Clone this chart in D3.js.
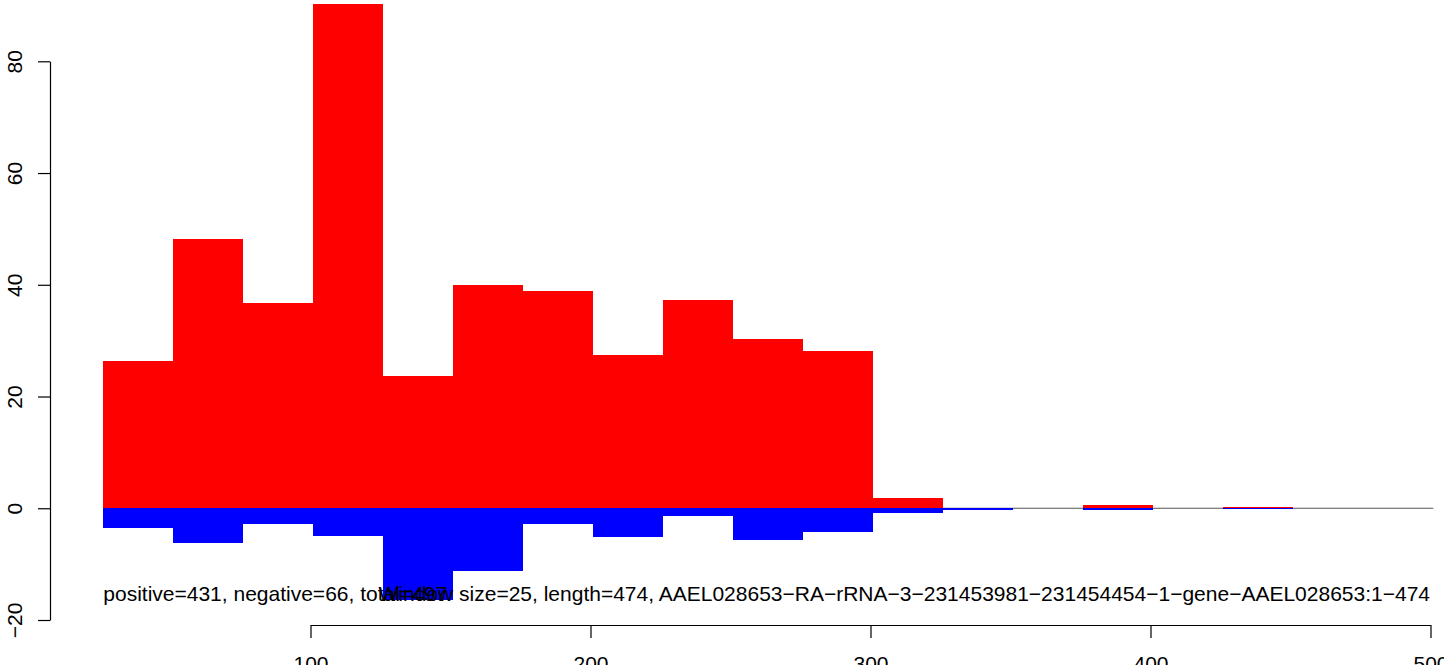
<!DOCTYPE html>
<html>
<head>
<meta charset="utf-8">
<script src="https://cdn.jsdelivr.net/npm/d3@7"></script>
<style>
  html, body { margin: 0; padding: 0; background: #fff; }
  svg { display: block; }
  text { font-family: "Liberation Sans", Arial, Helvetica, sans-serif; fill: #000; }
</style>
</head>
<body>
<svg id="chart" width="1444" height="665"></svg>
<script>
// ---- data ----
const binStarts = [26, 51, 76, 101, 126, 151, 176, 201, 226, 251, 276, 301, 326, 351, 376, 401, 426, 451, 476];
const binWidth = 25;
const positiveValues = [26.4, 48.2, 36.8, 90.3, 23.7, 40.0, 38.9, 27.5, 37.3, 30.3, 28.2, 1.84, 0, 0, 0.6, 0, 0.22, 0, 0];
const negativeValues = [-3.5, -6.2, -2.8, -4.9, -16.5, -11.2, -2.8, -5.1, -1.35, -5.7, -4.2, -0.8, -0.4, 0, -0.3, 0, -0.05, 0, 0];
const xTicks = [100, 200, 300, 400, 500];
const yTicks = [-20, 0, 20, 40, 60, 80];
const summaryLabel = "positive=431, negative=66, total=497";
const infoLabel = "Window size=25, length=474, AAEL028653\u2212RA\u2212rRNA\u22123\u2212231453981\u2212231454454\u22121\u2212gene\u2212AAEL028653:1\u2212474";

// ---- scales ----
const svg = d3.select("#chart");
const x = d3.scaleLinear().domain([100, 500]).range([310.5, 1430.5]);
const y = d3.scaleLinear().domain([-20, 80]).range([620, 61.3]);
const FS = 21;

// ---- zero baseline ----
svg.append("line")
  .attr("x1", x(binStarts[0])).attr("x2", x(binStarts[binStarts.length - 1] + binWidth))
  .attr("y1", y(0)).attr("y2", y(0))
  .attr("stroke", "#555").attr("stroke-width", 1);

// ---- bars ----
const bins = binStarts.map((s, i) => ({ s, pos: positiveValues[i], neg: negativeValues[i] }));
svg.append("g").selectAll("rect").data(bins.filter(d => d.pos > 0)).join("rect")
  .attr("x", d => x(d.s)).attr("width", d => x(d.s + binWidth) - x(d.s))
  .attr("y", d => y(d.pos)).attr("height", d => y(0) - y(d.pos))
  .attr("fill", "#ff0000").attr("shape-rendering", "crispEdges");
svg.append("g").selectAll("rect").data(bins.filter(d => d.neg < 0)).join("rect")
  .attr("x", d => x(d.s)).attr("width", d => x(d.s + binWidth) - x(d.s))
  .attr("y", y(0)).attr("height", d => y(d.neg) - y(0))
  .attr("fill", "#0000ff").attr("shape-rendering", "crispEdges");

// ---- axes ----
const yAxis = svg.append("g").attr("transform", "translate(50,0)")
  .call(d3.axisLeft(y).tickValues(yTicks).tickSize(12).tickSizeOuter(0).tickFormat(d => d < 0 ? "\u2212" + Math.abs(d) : d));
yAxis.select(".domain").attr("stroke", "#000").attr("stroke-width", 1.2);
yAxis.selectAll(".tick line").attr("stroke", "#000").attr("stroke-width", 1.2);
yAxis.selectAll(".tick text")
  .attr("font-size", FS).attr("font-family", "Liberation Sans, Arial, sans-serif")
  .attr("text-anchor", "middle").attr("dy", null).attr("x", null)
  .attr("transform", "translate(-28,0) rotate(-90)");

const xAxis = svg.append("g").attr("transform", "translate(0,625)")
  .call(d3.axisBottom(x).tickValues(xTicks).tickSize(13).tickSizeOuter(0).tickFormat(d3.format("d")));
xAxis.select(".domain").attr("stroke", "#000").attr("stroke-width", 1.2);
xAxis.selectAll(".tick line").attr("stroke", "#000").attr("stroke-width", 1.2);
xAxis.selectAll(".tick text")
  .attr("font-size", FS).attr("font-family", "Liberation Sans, Arial, sans-serif")
  .attr("y", 46).attr("dy", null);

// ---- annotations ----
svg.append("text").attr("x", x(binStarts[0])).attr("y", 601)
  .attr("font-size", FS).text(summaryLabel);
svg.append("text").attr("x", 1430).attr("y", 601)
  .attr("font-size", FS).attr("text-anchor", "end").text(infoLabel);
</script>
</body>
</html>
